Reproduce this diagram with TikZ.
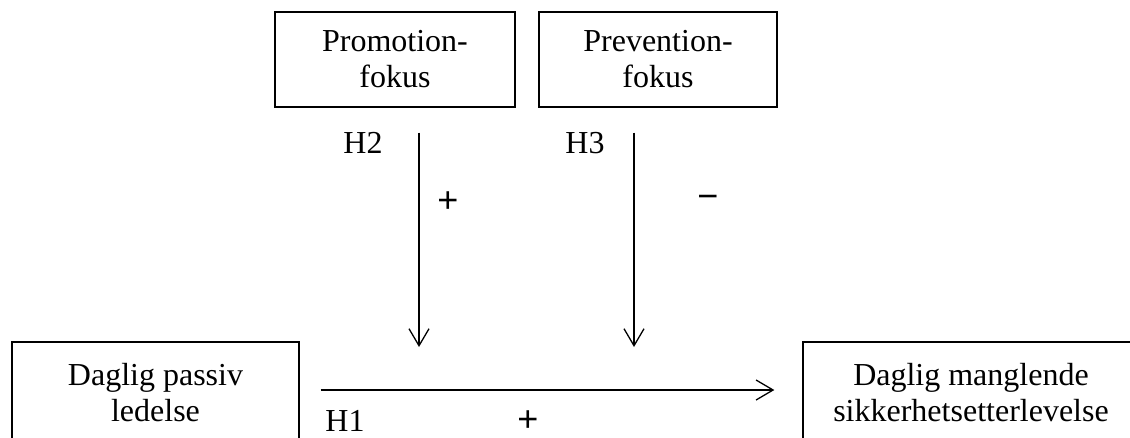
\documentclass[tikz,border=0pt]{standalone}
\usepackage{fontspec}
\setmainfont{Liberation Serif}
\newfontfamily\signfont{Liberation Sans}
\usetikzlibrary{arrows.meta}
\begin{document}
\begin{tikzpicture}[x=1pt,y=-1pt,
  every node/.style={font=\fontsize{32}{36}\selectfont, inner sep=0pt},
  box/.style={draw, line width=1.3pt, rectangle, align=center},
  arr/.style={line width=1.3pt, -{Straight Barb[length=17pt,width=20pt,line width=1.3pt]}},
  lbl/.style={anchor=center},
  sign/.style={anchor=center, font=\signfont\fontsize{36}{40}\selectfont}]
\useasboundingbox (0,0) rectangle (1130,437);
\clip (0,0) rectangle (1130,437);
\node[box, minimum width=240pt, minimum height=95pt] (promo) at (395,59.5) {Promotion-\\fokus};
\node[box, minimum width=238pt, minimum height=95pt] (prev) at (658,59.5) {Prevention-\\fokus};
\node[box, minimum width=287pt, minimum height=102pt] (pass) at (155.5,393) {Daglig passiv\\ledelse};
\node[box, minimum width=336pt, minimum height=102pt] (mang) at (971,393) {Daglig manglende\\sikkerhetsetterlevelse};
\coordinate (m1) at (419,347);
\coordinate (m2) at (634,347);
\coordinate (hy) at (0,390);
\draw[arr, shorten <=25pt] (promo.south -| m1) -- (m1);
\draw[arr, shorten <=25pt] (prev.south -| m2) -- (m2);
\draw[arr, shorten <=21pt, shorten >=28pt] (pass.east |- hy) -- (mang.west |- hy);
\node[lbl] (h2) at (363,143) {H2};
\node[lbl] (h3) at (585,143) {H3};
\node[sign] (p2) at (448,202) {+};
\node[sign] (m3) at (708,202) {−};
\node[lbl] (h1) at (345,421) {H1};
\node[sign] (p1) at (528,421) {+};
\end{tikzpicture}
\end{document}
